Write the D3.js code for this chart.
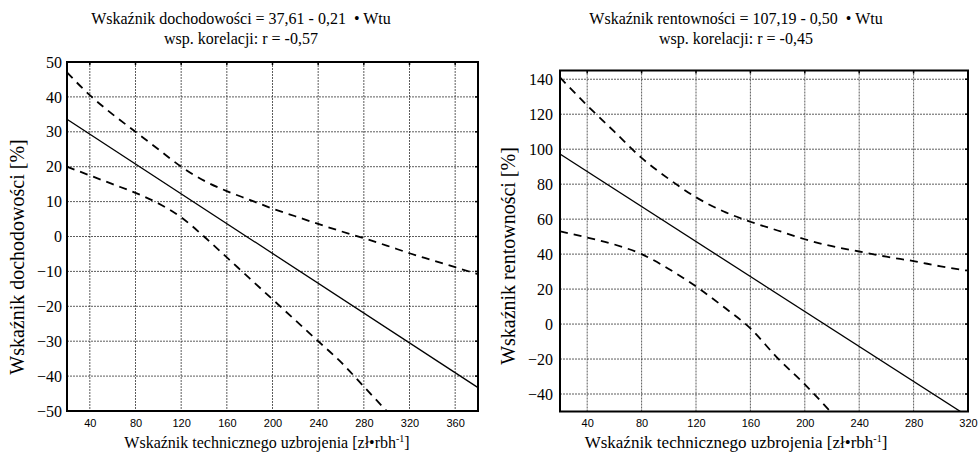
<!DOCTYPE html>
<html>
<head>
<meta charset="utf-8">
<script src="https://cdn.jsdelivr.net/npm/d3@7"></script>
<style>
  body { margin: 0; background: #fff; }
  svg text { fill: #000; }
</style>
</head>
<body>
<div id="chart"></div>
<script>
// data
var leftBandX = [20, 40, 60, 80, 100, 120, 140, 160, 180, 200, 220, 240, 260, 280, 300, 320, 340, 360, 380]
var leftUpper = [47, 40.5, 35, 30, 25, 20, 16, 13, 10.5, 8, 5.8, 3.6, 1.5, -0.5, -2.6, -4.8, -6.8, -8.8, -10.8]
var leftLowerX = [20, 40, 60, 80, 100, 120, 140, 160, 180, 200, 220, 240, 260, 280, 300]
var leftLower = [20, 17.5, 15, 12.5, 9.5, 5.5, 0, -6, -12, -18, -24, -30, -36, -43, -50]
var leftFitX = [20, 380]
var leftFit = [33.6, -43.3]
var leftXTicks = [40, 80, 120, 160, 200, 240, 280, 320, 360]
var leftYTicks = [-50, -40, -30, -20, -10, 0, 10, 20, 30, 40, 50]

var rightBandX = [20, 40, 60, 80, 100, 120, 140, 160, 180, 200, 220, 240, 260, 280, 300, 320]
var rightUpper = [141, 125, 110, 95, 83, 72.5, 64.5, 58.5, 53.5, 48.5, 44.5, 41.5, 38.5, 36, 33, 30.5]
var rightLowerX = [20, 40, 60, 80, 100, 120, 140, 160, 180, 200, 220]
var rightLower = [53, 49.5, 45.5, 40, 31.5, 21.5, 10, -2.5, -19.5, -34.5, -51]
var rightFitX = [20, 320]
var rightFit = [97.2, -52.8]
var rightXTicks = [40, 80, 120, 160, 200, 240, 280, 320]
var rightYTicks = [-40, -20, 0, 20, 40, 60, 80, 100, 120, 140]

var SERIF = '"Liberation Serif", "Times New Roman", "DejaVu Serif", serif'
var SANS = '"Liberation Sans", Arial, sans-serif'

var svgWidth = 978
var svgHeight = 457

var svg = d3.select("#chart")
  .append("svg")
  .attr("width", svgWidth)
  .attr("height", svgHeight)

function pairs(xs, ys) {
  return xs.map((x, i) => [x, ys[i]])
}

function drawChart(cfg) {
  var x = d3.scaleLinear().domain(cfg.xDomain).range([cfg.left, cfg.right])
  var y = d3.scaleLinear().domain(cfg.yDomain).range([cfg.bottom, cfg.top])
  var w = cfg.right - cfg.left
  var h = cfg.bottom - cfg.top

  svg.append("clipPath").attr("id", cfg.id)
    .append("rect")
    .attr("x", cfg.left).attr("y", cfg.top)
    .attr("width", w).attr("height", h)

  // grid
  var grid = svg.append("g")
  grid.selectAll(".gx")
    .data(cfg.xTicks)
    .enter()
    .append("line")
    .attr("x1", d => x(d)).attr("x2", d => x(d))
    .attr("y1", cfg.top).attr("y2", cfg.bottom)
  grid.selectAll(".gy")
    .data(cfg.yTicks)
    .enter()
    .append("line")
    .attr("x1", cfg.left).attr("x2", cfg.right)
    .attr("y1", d => y(d)).attr("y2", d => y(d))
  grid.selectAll("line")
    .attr("stroke", "#333")
    .attr("stroke-width", 0.8)
    .attr("stroke-dasharray", "2,1")

  // axes: labels plus little inner ticks on the frame
  var bottomAxis = d3.axisBottom(x).tickValues(cfg.xTicks).tickSize(0).tickPadding(8)
  var leftAxis = d3.axisLeft(y).tickValues(cfg.yTicks).tickSize(0).tickPadding(cfg.yPad)

  var gx = svg.append("g")
    .attr("transform", `translate(0, ${cfg.bottom})`)
    .call(bottomAxis)
  gx.select(".domain").remove()
  gx.selectAll("text")
    .style("font-family", SANS)
    .style("font-size", "11px")
    .attr("fill", "#000")

  var gy = svg.append("g")
    .attr("transform", `translate(${cfg.left}, 0)`)
    .call(leftAxis)
  gy.select(".domain").remove()
  gy.selectAll("text")
    .style("font-family", SERIF)
    .style("font-size", "16px")
    .attr("fill", "#000")

  var ticks = svg.append("g").attr("stroke", "#000").attr("stroke-width", 1.5)
  ticks.selectAll(".tt")
    .data(cfg.xTicks)
    .enter()
    .append("line")
    .attr("x1", d => x(d)).attr("x2", d => x(d))
    .attr("y1", cfg.top).attr("y2", cfg.top + 3)
  ticks.selectAll(".tr")
    .data(cfg.yTicks)
    .enter()
    .append("line")
    .attr("x1", cfg.right).attr("x2", cfg.right - 3)
    .attr("y1", d => y(d)).attr("y2", d => y(d))

  // lines
  var line = d3.line().x(d => x(d[0])).y(d => y(d[1]))
  var plot = svg.append("g").attr("clip-path", `url(#${cfg.id})`)

  plot.append("path")
    .datum(pairs(cfg.fitX, cfg.fit))
    .attr("d", line)
    .attr("fill", "none")
    .attr("stroke", "#000")
    .attr("stroke-width", 1.3)

  plot.selectAll(".band")
    .data([pairs(cfg.upperX, cfg.upper), pairs(cfg.lowerX, cfg.lower)])
    .enter()
    .append("path")
    .attr("d", d3.line().curve(d3.curveMonotoneX).x(d => x(d[0])).y(d => y(d[1])))
    .attr("fill", "none")
    .attr("stroke", "#000")
    .attr("stroke-width", 1.8)
    .attr("stroke-dasharray", "8,6")

  // frame
  svg.append("rect")
    .attr("x", cfg.left).attr("y", cfg.top)
    .attr("width", w).attr("height", h)
    .attr("fill", "none")
    .attr("stroke", "#000")
    .attr("stroke-width", 2)

  // titles
  svg.append("text")
    .attr("x", cfg.titleX).attr("y", 24)
    .attr("text-anchor", "middle")
    .style("font-family", SERIF)
    .style("font-size", "16px")
    .style("white-space", "pre")
    .text(cfg.title1)
  svg.append("text")
    .attr("x", cfg.titleX).attr("y", 44)
    .attr("text-anchor", "middle")
    .style("font-family", SERIF)
    .style("font-size", "16px")
    .text(cfg.title2)

  var xl = svg.append("text")
    .attr("x", cfg.xLabelX).attr("y", 448)
    .attr("text-anchor", "middle")
    .style("font-family", SERIF)
    .style("font-size", cfg.xLabelSize + "px")
  xl.append("tspan").text("Wskaźnik technicznego uzbrojenia [zł•rbh")
  xl.append("tspan").attr("dy", -6).style("font-size", "10px").text("-1")
  xl.append("tspan").attr("dy", 6).text("]")

  svg.append("text")
    .attr("transform", `translate(${cfg.yLabelX}, ${cfg.yLabelY}) rotate(-90)`)
    .attr("text-anchor", "middle")
    .style("font-family", SERIF)
    .style("font-size", "20px")
    .text(cfg.yLabel)
}

drawChart({
  id: "clipL",
  left: 67, right: 478, top: 62, bottom: 411,
  xDomain: [20, 380], yDomain: [-50, 50],
  xTicks: leftXTicks, yTicks: leftYTicks, yPad: 5,
  upperX: leftBandX, upper: leftUpper,
  lowerX: leftLowerX, lower: leftLower,
  fitX: leftFitX, fit: leftFit,
  title1: "Wskaźnik dochodowości = 37,61 - 0,21  • Wtu",
  title2: "wsp. korelacji: r = -0,57",
  titleX: 241, xLabelX: 267, xLabelSize: 16,
  yLabelX: 24, yLabelY: 257,
  yLabel: "Wskaźnik dochodowości [%]"
})

drawChart({
  id: "clipR",
  left: 560, right: 968, top: 70.5, bottom: 411.5,
  xDomain: [20, 320], yDomain: [-50, 145],
  xTicks: rightXTicks, yTicks: rightYTicks, yPad: 7,
  upperX: rightBandX, upper: rightUpper,
  lowerX: rightLowerX, lower: rightLower,
  fitX: rightFitX, fit: rightFit,
  title1: "Wskaźnik rentowności = 107,19 - 0,50  • Wtu",
  title2: "wsp. korelacji: r = -0,45",
  titleX: 736, xLabelX: 736, xLabelSize: 17,
  yLabelX: 515, yLabelY: 256,
  yLabel: "Wskaźnik rentowności [%]"
})
</script>
</body>
</html>
